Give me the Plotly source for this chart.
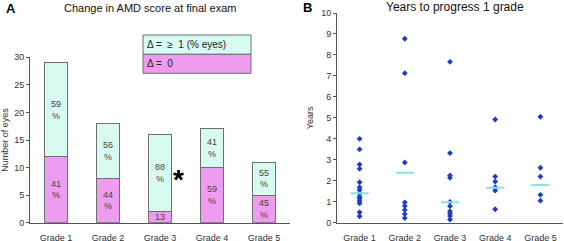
import plotly.graph_objects as go

grades = ["Grade 1", "Grade 2", "Grade 3", "Grade 4", "Grade 5"]
no_change = [12, 8, 2, 10, 5]
progressed = [17, 10, 14, 7, 6]
pct_no_change = ["41<br>%", "44<br>%", "13", "59<br>%", "45<br>%"]
pct_progressed = ["59<br>%", "56<br>%", "88<br>%", "41<br>%", "55<br>%"]

years_g1 = [4.0, 3.5, 2.78, 2.57, 1.93, 1.69, 1.56, 1.39, 1.24, 1.15, 1.04, 0.93, 0.5, 0.31]
years_g2 = [8.77, 7.13, 2.87, 0.97, 0.8, 0.61, 0.41, 0.22]
years_g3 = [7.67, 3.32, 2.25, 2.14, 0.99, 0.79, 0.55, 0.44, 0.32, 0.15]
years_g4 = [4.92, 2.2, 1.96, 1.69, 1.53, 0.64]
years_g5 = [5.05, 2.62, 2.2, 1.33, 1.05]
centre_line = [1.4, 2.38, 0.98, 1.67, 1.8]

CYAN = "#d8fbf1"
MAGENTA = "#ee9cf0"
EDGE = "#6e6e6e"
AXIS = "#555555"
TXT = "#333333"
FONT = "Arial, Liberation Sans, sans-serif"

fig = go.Figure()
fig.add_trace(go.Bar(x=grades, y=no_change, width=0.43, marker=dict(color=MAGENTA, line=dict(color=EDGE, width=1)),
                     text=pct_no_change, textposition="inside", insidetextanchor="middle", constraintext="none",
                     textfont=dict(size=9, color="#444444", family=FONT), textangle=0,
                     xaxis="x", yaxis="y", showlegend=False))
fig.add_trace(go.Bar(x=grades, y=progressed, width=0.43, marker=dict(color=CYAN, line=dict(color=EDGE, width=1)),
                     text=pct_progressed, textposition="inside", insidetextanchor="middle", constraintext="none",
                     textfont=dict(size=9, color="#444444", family=FONT), textangle=0,
                     xaxis="x", yaxis="y", showlegend=False))

for g, ys in zip(grades, [years_g1, years_g2, years_g3, years_g4, years_g5]):
    fig.add_trace(go.Scatter(x=[g] * len(ys), y=ys, mode="markers",
                             marker=dict(symbol="diamond", size=4.5, color="#1f3cc4"),
                             xaxis="x2", yaxis="y2", showlegend=False))
fig.add_trace(go.Scatter(x=grades, y=centre_line, mode="markers",
                         marker=dict(symbol="line-ew", size=13, line=dict(color="#7ee8e8", width=2)),
                         xaxis="x2", yaxis="y2", showlegend=False))

axis_common = dict(showline=True, linecolor=AXIS, linewidth=1, showgrid=False, zeroline=False, automargin=False,
                   tickfont=dict(size=9, color=TXT, family=FONT))
fig.update_layout(
    width=564, height=241, margin=dict(l=0, r=0, t=0, b=0, autoexpand=False),
    paper_bgcolor="white", plot_bgcolor="white", barmode="stack",
    font=dict(family=FONT, color=TXT),
    xaxis=dict(domain=[30 / 564, 290 / 564], range=[-0.5, 4.5], anchor="y", ticks="outside", ticklen=6,
               tickcolor="rgba(0,0,0,0)", **axis_common),
    yaxis=dict(domain=[18.3 / 241, 183.7 / 241], range=[0, 30], dtick=5, ticks="outside", ticklen=3,
               tickcolor=AXIS, anchor="x",
               title=dict(text="Number of eyes", font=dict(size=9, color=TXT), standoff=6), **axis_common),
    xaxis2=dict(domain=[337 / 564, 563 / 564], range=[-0.5, 4.5], anchor="y2", ticks="outside", ticklen=6,
                tickcolor="rgba(0,0,0,0)", **axis_common),
    yaxis2=dict(domain=[18.3 / 241, 228 / 241], range=[0, 10], dtick=1, ticks="outside", ticklen=3,
                tickcolor=AXIS, anchor="x2",
                title=dict(text="Years", font=dict(size=9, color=TXT), standoff=6), **axis_common),
)

# legend box
fig.add_shape(type="rect", xref="paper", yref="paper", x0=143 / 564, x1=251 / 564, y0=(241 - 54.3) / 241,
              y1=(241 - 35) / 241, fillcolor=CYAN, line=dict(color=EDGE, width=1))
fig.add_shape(type="rect", xref="paper", yref="paper", x0=143 / 564, x1=251 / 564, y0=(241 - 73.3) / 241,
              y1=(241 - 54.3) / 241, fillcolor=MAGENTA, line=dict(color=EDGE, width=1))
fig.add_annotation(xref="paper", yref="paper", x=145 / 564, y=(241 - 44.6) / 241, text="Δ =  ≥  1 (% eyes)",
                   showarrow=False, xanchor="left", yanchor="middle", font=dict(size=10, color="#222222"))
fig.add_annotation(xref="paper", yref="paper", x=145 / 564, y=(241 - 63.8) / 241, text="Δ =  0",
                   showarrow=False, xanchor="left", yanchor="middle", font=dict(size=10, color="#222222"))

# titles and panel letters
fig.add_annotation(xref="paper", yref="paper", x=150 / 564, y=(241 - 8) / 241, text="Change in AMD score at final exam",
                   showarrow=False, xanchor="center", yanchor="middle", font=dict(size=11, color="#111111"))
fig.add_annotation(xref="paper", yref="paper", x=455 / 564, y=(241 - 7) / 241, text="Years to progress 1 grade",
                   showarrow=False, xanchor="center", yanchor="middle", font=dict(size=12, color="#111111"))
fig.add_annotation(xref="paper", yref="paper", x=4 / 564, y=(241 - 9) / 241, text="<b>A</b>",
                   showarrow=False, xanchor="left", yanchor="middle", font=dict(size=13, color="#000000"))
fig.add_annotation(xref="paper", yref="paper", x=301 / 564, y=(241 - 8) / 241, text="<b>B</b>",
                   showarrow=False, xanchor="left", yanchor="middle", font=dict(size=13, color="#000000"))

# significance asterisk next to Grade 3
fig.add_annotation(x=2.36, y=8.5, xref="x", yref="y", text="<b>*</b>", showarrow=False, yshift=-4,
                   font=dict(size=28, color="#000000"))

fig.write_html("out.html", config={"displayModeBar": False},
               post_script="document.body.style.margin='0';document.body.style.overflow='hidden';")
